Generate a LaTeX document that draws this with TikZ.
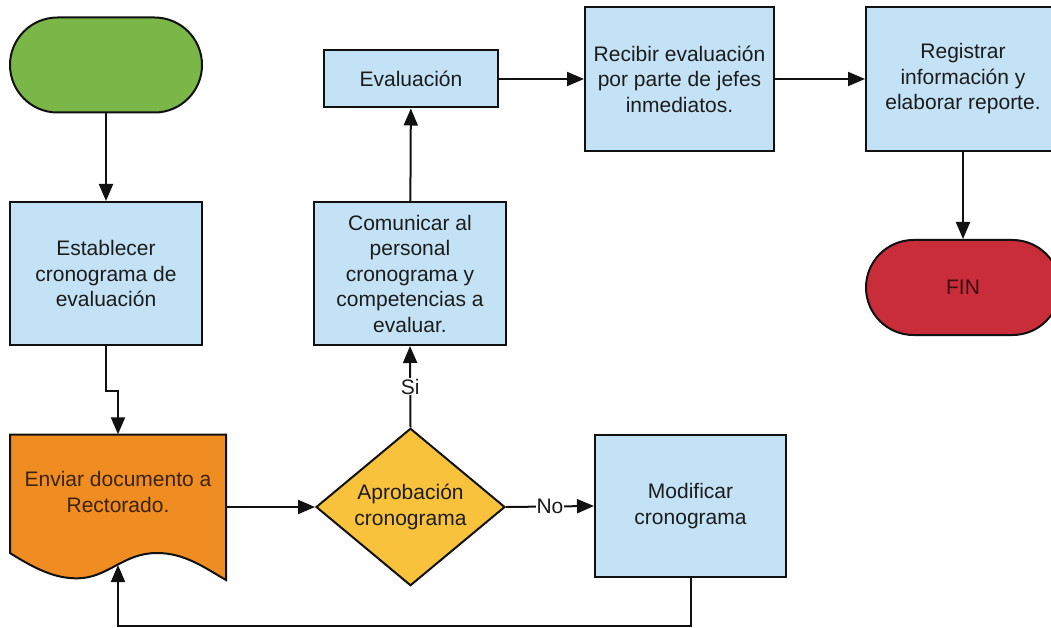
\documentclass[tikz,border=0pt]{standalone}
\usepackage{fontspec}
\setmainfont{Liberation Sans}
\usetikzlibrary{arrows.meta,shapes.geometric}
\definecolor{ln}{HTML}{111111}
\definecolor{txt}{HTML}{1C1C1C}
\definecolor{procblue}{HTML}{C3E2F5}
\definecolor{startgreen}{HTML}{7AB648}
\definecolor{docorange}{HTML}{EF8D22}
\definecolor{decyellow}{HTML}{F9C23C}
\definecolor{finred}{HTML}{C92D39}
\begin{document}
\begin{tikzpicture}[x=1pt,y=-1pt,
  lbl/.style={font=\fontsize{21}{25.5}\selectfont, text=txt, align=center},
  proc/.style={draw=ln, line width=2pt, fill=procblue, inner sep=0pt, lbl},
  term/.style={draw=ln, line width=2pt, inner sep=0pt, lbl, minimum height=95pt, rounded corners=47.5pt},
  conn/.style={draw=ln, line width=2pt, -{Triangle[length=17pt,width=14pt]}},
  edgelbl/.style={fill=white, inner sep=0.5pt, lbl}]
\useasboundingbox (0,0) rectangle (1051,628);
\clip (0,0) rectangle (1051,628);
% shapes
\node[term, fill=startgreen, minimum width=192pt] (start) at (106,65) {};
\node[proc, minimum width=192pt, minimum height=143pt] (est) at (106,273.5) {Establecer\\cronograma de\\evaluación};
\node[proc, minimum width=192pt, minimum height=143pt] (com) at (410,273.5) {Comunicar al\\personal\\cronograma y\\competencias a\\evaluar.};
\node[proc, minimum width=174pt, minimum height=57pt] (eval) at (411,79) {Evaluación};
\node[proc, minimum width=189pt, minimum height=144pt] (rec) at (679.5,79) {Recibir evaluación\\por parte de jefes\\inmediatos.};
\node[proc, minimum width=194pt, minimum height=144pt] (reg) at (963,79) {Registrar\\información y\\elaborar reporte.};
\node[term, fill=finred, minimum width=194pt, text=finred!30!black] (fin) at (963,287.5) {FIN};
\node[proc, minimum width=191pt, minimum height=142pt] (mod) at (690.5,506) {Modificar\\cronograma};
\node[diamond, draw=ln, line width=2pt, fill=decyellow, inner sep=0pt, minimum width=189pt, minimum height=142pt, lbl] (dec) at (410.5,507) {Aprobación\\cronograma};
% document shape
\node[inner sep=0pt, minimum width=216pt, minimum height=145pt] (env) at (118,507) {};
\filldraw[draw=ln, fill=docorange, line width=2pt, line join=miter]
  (10,434.5) -- (226,434.5) -- (226,580)
  .. controls (205,568) and (185,553) .. (157,553)
  .. controls (125,553) and (110,575) .. (83,578)
  .. controls (60,580) and (40,572) .. (10,553) -- cycle;
\node[lbl, text=docorange!25!black] (envtxt) at (118,492) {Enviar documento a\\Rectorado.};
\coordinate (wv) at (118,565);
% connectors
\draw[conn] (start) -- (est);
\draw[conn] (est.south) -- ++(0,45) -| (env.north);
\draw[conn] (env.east) -- (dec.west);
\draw[conn] (dec.north) -- node[edgelbl] (si) {Si} (com.south);
\draw[conn] (dec.east) -- node[edgelbl] (no) {No} (mod.west);
\draw[conn] (com) -- (eval);
\draw[conn] (eval) -- (rec);
\draw[conn] (rec) -- (reg);
\draw[conn] (reg) -- (fin);
\draw[conn] (mod.south) -- ++(0,48) -| (wv);
\end{tikzpicture}
\end{document}
